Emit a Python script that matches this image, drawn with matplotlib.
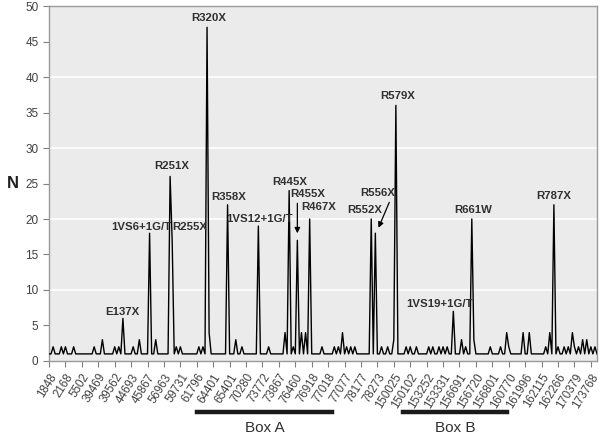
import matplotlib
matplotlib.use("Agg")
import matplotlib.pyplot as plt
from matplotlib.lines import Line2D

plt.rcParams['font.family'] = ['Liberation Sans', 'DejaVu Sans']

# N per mutation position (one value per category on the x axis)
counts = [
    1, 1, 2, 1, 1, 1, 2, 1, 2, 1, 1, 1, 2, 1, 1, 1, 1, 1, 1, 1,
    1, 1, 2, 1, 1, 1, 3, 1, 1, 1, 1, 1, 2, 1, 2, 1, 6, 1, 1, 1,
    1, 2, 1, 1, 3, 1, 1, 1, 1, 18, 1, 1, 3, 1, 1, 1, 1, 1, 1, 26,
    17, 1, 2, 1, 2, 1, 1, 1, 1, 1, 1, 1, 1, 2, 1, 2, 1, 47, 4, 1,
    1, 1, 1, 1, 1, 1, 1, 22, 1, 1, 1, 3, 1, 1, 2, 1, 1, 1, 1, 1,
    1, 1, 19, 1, 1, 1, 1, 2, 1, 1, 1, 1, 1, 1, 1, 4, 1, 24, 1, 2,
    1, 17, 1, 4, 1, 4, 1, 20, 1, 1, 1, 1, 1, 2, 1, 1, 1, 1, 1, 2,
    1, 2, 1, 4, 1, 2, 1, 2, 1, 2, 1, 1, 1, 1, 1, 1, 1, 20, 1, 18,
    1, 1, 2, 1, 1, 2, 1, 1, 3, 36, 1, 1, 1, 1, 2, 1, 2, 1, 1, 2,
    1, 1, 1, 1, 1, 2, 1, 2, 1, 1, 2, 1, 2, 1, 2, 1, 1, 7, 1, 1,
    1, 3, 1, 2, 1, 1, 20, 3, 1, 1, 1, 1, 1, 1, 1, 2, 1, 1, 1, 1,
    2, 1, 1, 4, 2, 1, 1, 1, 1, 1, 1, 4, 1, 1, 4, 1, 1, 1, 1, 1,
    1, 1, 2, 1, 4, 1, 22, 1, 2, 1, 1, 2, 1, 2, 1, 4, 2, 1, 2, 1,
    3, 1, 3, 1, 2, 1, 2, 1,
]

# genomic positions shown on the axis (every 8th category)
tick_labels = [
    "1848", "2168", "5502", "39469", "39562", "44693", "45867", "56963",
    "59731", "61796", "64401", "65401", "70280", "73772", "73867", "76460",
    "76918", "77018", "77077", "78177", "78273", "150025", "150102",
    "153252", "153331", "156691", "156720", "156801", "160770", "161996",
    "162115", "162266", "170379", "173768",
]
tick_step = 8

# mutation names with label position (category, N)
mutations = ["E137X", "1VS6+1G/T", "R251X", "R255X", "R320X", "R358X",
             "1VS12+1G/T", "R445X", "R467X", "R552X", "R579X",
             "1VS19+1G/T", "R661W", "R787X"]
label_x = [35.5, 45.2, 59.8, 68.7, 77.7, 87.7, 102.4, 117.4, 131.2,
           153.6, 169.9, 190.5, 206.8, 245.8]
label_y = [6.9, 18.9, 27.4, 18.9, 48.3, 23.1, 20.0, 25.2, 21.7,
           21.2, 37.3, 8.0, 21.2, 23.3]

fig = plt.figure(figsize=(6, 4.38), dpi=100)
ax = fig.add_axes([0.0817, 0.1758, 0.9133, 0.8105])
ax.set_facecolor('#ebebeb')

ax.plot(range(len(counts)), counts, color='black', lw=1.0, zorder=3)

ax.set_xlim(0, len(counts) - 1)
ax.set_ylim(0, 50)
ax.set_yticks(range(0, 51, 5))
for g in range(10, 51, 10):
    ax.axhline(g, color='white', lw=1.2, zorder=1)

ax.set_xticks(range(0, len(tick_labels) * tick_step, tick_step))
ax.set_xticklabels(tick_labels, rotation=58, ha='right',
                   rotation_mode='anchor', fontsize=8.3, color='#404040')
ax.tick_params(axis='y', labelsize=8.5, labelcolor='#404040',
               color='#808080', length=4)
ax.tick_params(axis='x', color='#808080', length=4)
for s in ax.spines.values():
    s.set_color('#9a9a9a')
    s.set_linewidth(1.0)

ax.set_ylabel('N', rotation=0, fontsize=12, fontweight='bold', labelpad=9,
              va='center', color='#202020')

for name, x, y in zip(mutations, label_x, label_y):
    ax.text(x, y, name, ha='center', va='center', fontsize=8.2,
            fontweight='bold', color='#303030', zorder=4)

# labels with arrows
ax.annotate("R455X", xy=(121, 17.6), xytext=(126.3, 23.5),
            ha='center', va='center', fontsize=8.2, fontweight='bold',
            color='#303030')
ax.annotate("", xy=(121, 17.6), xytext=(121, 22.6),
            arrowprops=dict(arrowstyle='-|>', color='black', lw=0.9,
                            mutation_scale=8))
ax.annotate("R556X", xy=(160, 18.3), xytext=(160.3, 23.6),
            ha='center', va='center', fontsize=8.2, fontweight='bold',
            color='#303030')
ax.annotate("", xy=(160, 18.4), xytext=(166.3, 22.7),
            arrowprops=dict(arrowstyle='-|>', color='black', lw=0.9,
                            mutation_scale=8))

# protein domain bars under the axis
fig.add_artist(Line2D([197 / 600, 332 / 600], [0.0594, 0.0594],
                      color='#1a1a1a', lw=3.2))
fig.add_artist(Line2D([403 / 600, 507 / 600], [0.0594, 0.0594],
                      color='#1a1a1a', lw=3.2))
fig.text(264.5 / 600, 0.0228, "Box A", ha='center', va='center',
         fontsize=11, color='#303030')
fig.text(455 / 600, 0.0228, "Box B", ha='center', va='center',
         fontsize=11, color='#303030')

fig.savefig('out.png', dpi=100)
